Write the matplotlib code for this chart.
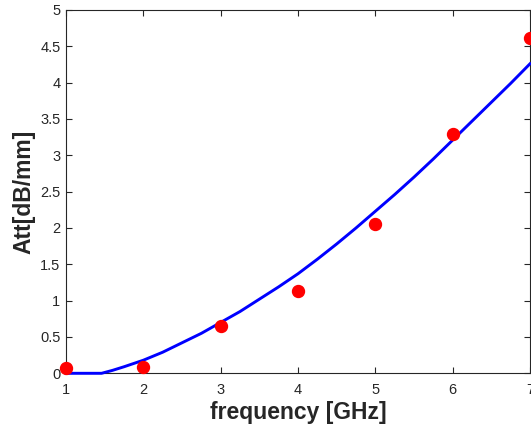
import matplotlib
matplotlib.use("Agg")
import matplotlib.pyplot as plt
from matplotlib.ticker import FuncFormatter, MultipleLocator

# measured attenuation (red dots)
freq_meas = [1, 2, 3, 4, 5, 6, 7]
att_meas = [0.07, 0.09, 0.65, 1.13, 2.05, 3.29, 4.62]

# fitted curve (blue line)
freq_fit = [1, 1.25, 1.46, 1.6, 1.75, 2, 2.25, 2.5, 2.75, 3, 3.25, 3.5, 3.75, 4,
            4.25, 4.5, 4.75, 5, 5.25, 5.5, 5.75, 6, 6.25, 6.5, 6.75, 7]
att_fit = [0, 0, 0, 0.04, 0.09, 0.18, 0.29, 0.42, 0.55, 0.70, 0.85, 1.02, 1.19, 1.37,
           1.57, 1.78, 2.00, 2.23, 2.46, 2.70, 2.95, 3.21, 3.47, 3.73, 3.99, 4.26]

plt.rcParams['font.family'] = ['Liberation Sans', 'DejaVu Sans']
txt_color = '#262626'

fig = plt.figure(figsize=(5.31, 4.32), dpi=100)
ax = fig.add_axes([66 / 531, 58.7 / 432, 464 / 531, 363.3 / 432])

ax.plot(freq_fit, att_fit, color='#0000ff', linewidth=2.1, clip_on=False, zorder=3)
ax.plot(freq_meas, att_meas, 'o', color='#ff0000', markersize=8.6, clip_on=False, zorder=4)

ax.set_xlim(1, 7)
ax.set_ylim(0, 5)
ax.xaxis.set_major_locator(MultipleLocator(1))
ax.yaxis.set_major_locator(MultipleLocator(0.5))
ax.yaxis.set_major_formatter(FuncFormatter(lambda v, p: '%g' % v))

ax.tick_params(direction='in', top=True, right=True, length=4, width=0.8,
               color=txt_color, labelcolor=txt_color, labelsize=10.5)
ax.tick_params(axis='x', pad=7)
ax.tick_params(axis='y', pad=4)
for s in ax.spines.values():
    s.set_color(txt_color)
    s.set_linewidth(0.8)

ax.set_xlabel('frequency [GHz]', fontsize=16.5, fontweight='bold', color=txt_color, labelpad=3)
ax.set_ylabel('Att[dB/mm]', fontsize=16.5, fontweight='bold', color=txt_color, labelpad=3)

fig.savefig('out.png', dpi=100)
